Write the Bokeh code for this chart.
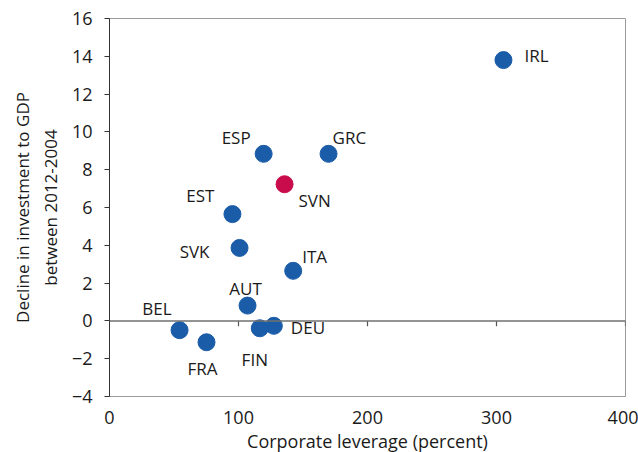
from bokeh.plotting import figure
from bokeh.models import Range1d, Span, FixedTicker, ColumnDataSource
from bokeh.core.properties import value
from bokeh.embed import file_html
from bokeh.resources import INLINE

# ---- data ----
countries = ["IRL", "GRC", "ESP", "EST", "SVK", "ITA", "AUT", "BEL", "FRA", "FIN", "DEU"]
leverage = [305.4, 169.8, 119.5, 95.3, 100.8, 142.4, 107.0, 54.3, 75.2, 116.5, 127.4]
decline = [13.8, 8.84, 8.84, 5.65, 3.86, 2.65, 0.81, -0.49, -1.13, -0.39, -0.26]

hl_country = ["SVN"]
hl_leverage = [135.7]
hl_decline = [7.23]

x_ticks = [0, 100, 200, 300, 400]
y_ticks = [-4, -2, 0, 2, 4, 6, 8, 10, 12, 14, 16]

# label placement (screen pixel offsets relative to point)
lab_align = ["left", "left", "right", "right", "right", "left", "center", "right", "center", "center", "left"]
lab_dx = [21, 4, -13, -18, -30, 9, -2, -8, -4, -5, 17]
lab_dy = [-5, -16.5, -16.5, -19, 4, -14, -17, -22, 26, 31, 2]
hl_align = ["left"]
hl_dx = [14]
hl_dy = [16.5]

FONT = "Open Sans"
BLUE = "#1a5ca8"
RED = "#c90c4b"

p = figure(frame_width=516, frame_height=378, output_backend="svg", toolbar_location=None,
           x_range=Range1d(0, 400), y_range=Range1d(-4, 16),
           min_border_left=109, min_border_top=18, min_border_right=13, min_border_bottom=56)
p.xgrid.visible = False
p.ygrid.visible = False
p.outline_line_color = "#9a9a9a"
p.outline_line_width = 1
p.background_fill_color = "white"
p.border_fill_color = "white"

# y axis
ya = p.yaxis[0]
ya.ticker = FixedTicker(ticks=y_ticks)
ya.minor_tick_line_color = None
ya.major_tick_out = 5
ya.major_tick_in = 0
ya.axis_line_color = "#333333"
ya.major_tick_line_color = "#333333"
ya.major_label_text_font = FONT
ya.major_label_text_font_size = "18px"
ya.major_label_text_color = "#1a1a1a"
ya.major_label_standoff = 12
ya.axis_label = "Decline in investment to GDP\nbetween 2012-2004"
ya.axis_label_text_font = FONT
ya.axis_label_text_font_size = "17px"
ya.axis_label_text_font_style = "normal"
ya.axis_label_text_color = "#1a1a1a"
ya.axis_label_standoff = 7

# x axis
xa = p.xaxis[0]
xa.ticker = FixedTicker(ticks=x_ticks)
xa.minor_tick_line_color = None
xa.major_tick_out = 0
xa.major_tick_in = 0
xa.axis_line_color = "#9a9a9a"
xa.major_label_text_font = FONT
xa.major_label_text_font_size = "18px"
xa.major_label_text_color = "#1a1a1a"
xa.major_label_standoff = 14
xa.axis_label = "Corporate leverage (percent)"
xa.axis_label_text_font = FONT
xa.axis_label_text_font_size = "18px"
xa.axis_label_text_font_style = "normal"
xa.axis_label_text_color = "#1a1a1a"
xa.axis_label_standoff = 2

# zero line with ticks
p.add_layout(Span(location=0, dimension="width", line_color="#707070", line_width=1.5))
tick_x = [t for t in x_ticks if t > 0]
p.segment(x0=tick_x, y0=[0] * len(tick_x), x1=tick_x, y1=[-0.28] * len(tick_x),
          line_color="#555555", line_width=1.2)

src = ColumnDataSource(dict(x=leverage, y=decline, name=countries, align=lab_align, dx=lab_dx, dy=lab_dy))
hsrc = ColumnDataSource(dict(x=hl_leverage, y=hl_decline, name=hl_country, align=hl_align, dx=hl_dx, dy=hl_dy))

p.scatter("x", "y", source=src, size=17, fill_color=BLUE, line_color=BLUE)
p.scatter("x", "y", source=hsrc, size=17, fill_color=RED, line_color=RED)

for s in (src, hsrc):
    p.text("x", "y", text="name", source=s, x_offset="dx", y_offset="dy", text_align="align",
           text_baseline="middle", text_font=value(FONT), text_font_size="17px", text_color="#1a1a1a")

open("out.html", "w").write(file_html(p, INLINE))
